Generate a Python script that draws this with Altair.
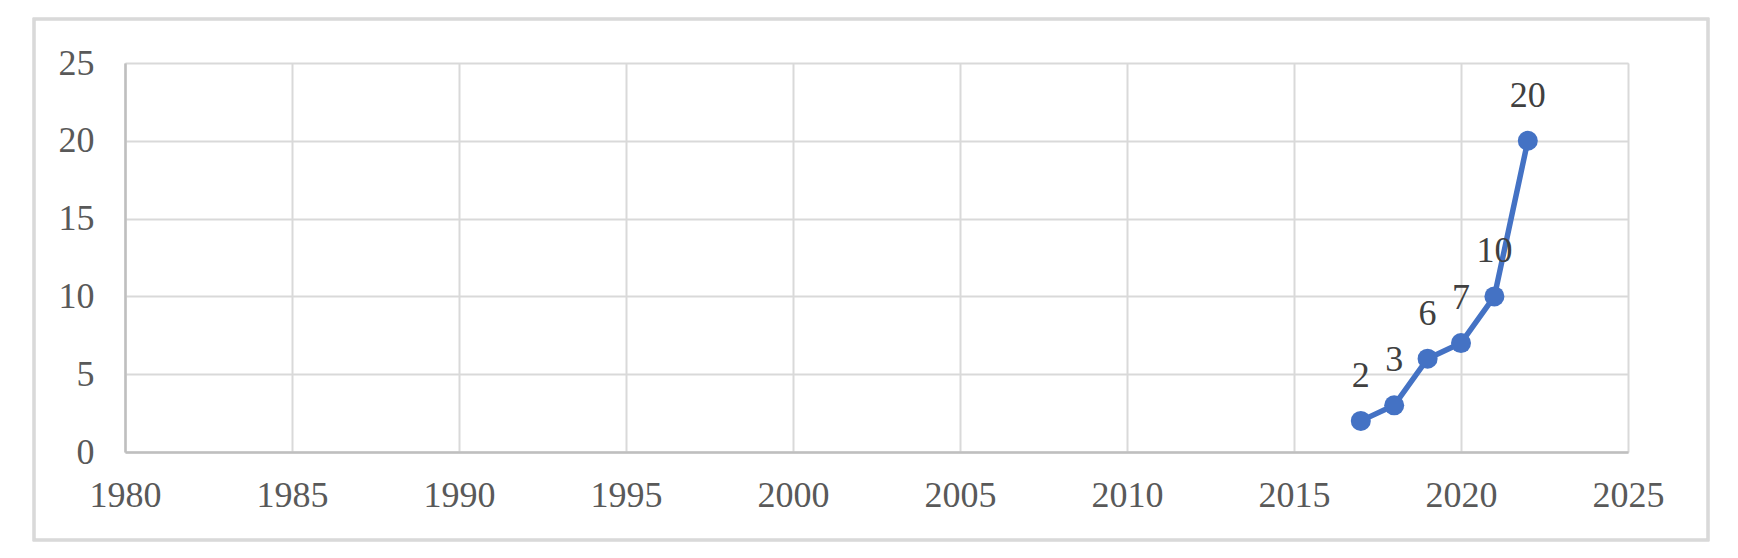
import altair as alt
import pandas as pd

years = [2017, 2018, 2019, 2020, 2021, 2022]
counts = [2, 3, 6, 7, 10, 20]

df = pd.DataFrame({"year": years, "count": counts})

FONT = "Liberation Serif"
FS = 36
W, H = 1503, 389

x = alt.X("year:Q", scale=alt.Scale(domain=[1980, 2025], nice=False, zero=False),
          axis=alt.Axis(values=list(range(1980, 2026, 5)), format="d", title=None,
                        grid=True, gridColor="#d9d9d9", gridWidth=2,
                        domain=True, domainColor="#bfbfbf", domainWidth=2.5,
                        ticks=False, labelFont=FONT, labelFontSize=FS,
                        labelColor="#595959", labelPadding=26,
                        labelBaseline="top", labelFlush=False, labelOverlap=False))
y = alt.Y("count:Q", scale=alt.Scale(domain=[0, 25], nice=False),
          axis=alt.Axis(values=[0, 5, 10, 15, 20, 25], title=None,
                        grid=True, gridColor="#d9d9d9", gridWidth=2,
                        domain=True, domainColor="#bfbfbf", domainWidth=2.5,
                        ticks=False, labelFont=FONT, labelFontSize=FS,
                        labelColor="#595959", labelPadding=31, labelFlush=False))

border = alt.Chart(df).mark_rect(fill=None, stroke="#d9d9d9", strokeWidth=2.5, clip=False).encode(
    x=alt.value(-91), x2=alt.value(1583), y=alt.value(-44), y2=alt.value(477)
)

line = alt.Chart(df).mark_line(color="#4472C4", strokeWidth=5.5).encode(x=x, y=y)
pts = alt.Chart(df).mark_circle(color="#4472C4", size=400, opacity=1).encode(x=x, y=y)
labels = alt.Chart(df).mark_text(font=FONT, fontSize=FS, color="#404040",
                                 baseline="alphabetic", dy=-34).encode(
    x=x, y=y, text=alt.Text("count:Q"))

chart = alt.layer(border, line, pts, labels).properties(
    width=W, height=H,
    autosize=alt.AutoSizeParams(type="none"),
    padding={"left": 117, "top": 55, "right": 102, "bottom": 90},
).configure_view(strokeWidth=0).configure(background="white")

chart.save("out.html", embed_options={"renderer": "svg", "actions": False})
